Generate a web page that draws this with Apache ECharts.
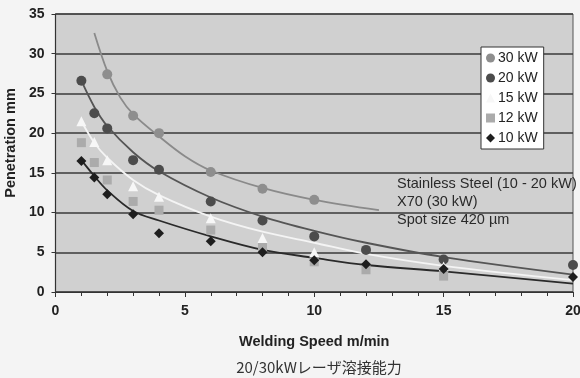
<!DOCTYPE html>
<html>
<head>
<meta charset="utf-8">
<script src="https://cdn.jsdelivr.net/npm/echarts@6/dist/echarts.min.js"></script>
<style>
  html, body { margin: 0; padding: 0; background: #f4f4f4; }
  #chart { width: 580px; height: 378px; }
</style>
</head>
<body>
<div id="chart"></div>
<script>
  // measured points (speed m/min, penetration mm)
  const speeds30 = [2, 3, 4, 6, 8, 10]
  const pen30 = [27.4, 22.2, 20.0, 15.1, 13.0, 11.6]
  const speeds20 = [1, 1.5, 2, 3, 4, 6, 8, 10, 12, 15, 20]
  const pen20 = [26.6, 22.5, 20.6, 16.6, 15.4, 11.4, 9.0, 7.0, 5.3, 4.1, 3.4]
  const speeds15 = [1, 1.5, 2, 3, 4, 6, 8, 10, 15]
  const pen15 = [21.5, 18.9, 16.6, 13.3, 12.0, 9.3, 6.8, 5.0, 3.2]
  const speeds12 = [1, 1.5, 2, 3, 4, 6, 8, 10, 12, 15]
  const pen12 = [18.8, 16.3, 14.1, 11.4, 10.3, 7.8, 5.6, 3.8, 2.8, 2.0]
  const speeds10 = [1, 1.5, 2, 3, 4, 6, 8, 10, 12, 15, 20]
  const pen10 = [16.5, 14.4, 12.3, 9.8, 7.4, 6.4, 5.0, 4.0, 3.5, 2.9, 1.9]

  // trend lines
  const trend30X = [1.5, 2, 2.5, 3, 4, 5, 6, 8, 10, 12.5]
  const trend30Y = [32.6, 27.8, 24.5, 22.4, 19.6, 17.1, 15.3, 13.1, 11.6, 10.3]
  const trendX = [1, 1.5, 2, 3, 4, 6, 8, 10, 12, 15, 20]
  const trend20Y = [26.6, 23.3, 20.9, 17.6, 15.2, 11.9, 9.5, 7.7, 6.2, 4.4, 2.2]
  const trend15Y = [21.5, 18.8, 16.9, 14.1, 12.2, 9.5, 7.6, 6.2, 4.8, 3.3, 1.5]
  const trend10Y = [16.6, 14.6, 12.8, 10.2, 9.0, 7.0, 5.3, 4.3, 3.4, 2.6, 1.05]

  const legendNames = ['30 kW', '20 kW', '15 kW', '12 kW', '10 kW']
  const noteLines = ['Stainless Steel (10 - 20 kW)', 'X70 (30 kW)', 'Spot size 420 µm']

  const zip = (xs, ys) => xs.map((x, i) => [x, ys[i]])
  const font = 'Liberation Sans, Arial, sans-serif'

  function trend (name, xs, ys, color) {
    return {
      name: name + ' trend',
      type: 'line',
      data: zip(xs, ys),
      smooth: 0.35,
      showSymbol: false,
      silent: true,
      z: 2,
      lineStyle: { color: color, width: 1.8 }
    }
  }

  function points (name, xs, ys, symbol, color, size) {
    return {
      name: name,
      type: 'scatter',
      data: zip(xs, ys),
      symbol: symbol,
      symbolSize: size,
      z: 5,
      itemStyle: { color: color, opacity: 1 }
    }
  }

  const chart = echarts.init(document.getElementById('chart'))
  chart.setOption({
    backgroundColor: '#f4f4f4',
    animation: false,
    textStyle: { fontFamily: font },
    title: {
      text: '20/30kWレーザ溶接能力',
      left: 314,
      textAlign: 'center',
      top: 355,
      textStyle: { fontFamily: 'Noto Sans CJK JP', fontSize: 15, fontWeight: 'normal', color: '#333' }
    },
    grid: {
      left: 55.5, right: 7, top: 14, bottom: 86,
      outerBoundsMode: 'none',
      containLabel: false,
      show: true,
      backgroundColor: '#d0d0d0',
      borderColor: '#555',
      borderWidth: 1
    },
    legend: {
      orient: 'vertical',
      left: 481,
      top: 47,
      data: [
        { name: '30 kW', icon: 'circle' },
        { name: '20 kW', icon: 'circle' },
        { name: '15 kW', icon: 'triangle' },
        { name: '12 kW', icon: 'rect' },
        { name: '10 kW', icon: 'diamond' }
      ],
      itemWidth: 9,
      itemHeight: 9,
      itemGap: 6,
      padding: [4, 6, 4, 5],
      backgroundColor: '#ffffff',
      borderColor: '#333',
      borderWidth: 1,
      borderRadius: 0,
      textStyle: { fontFamily: font, fontSize: 14, color: '#222', lineHeight: 14, padding: [0, 0, 0, -2] }
    },
    xAxis: {
      type: 'value',
      min: 0, max: 20, interval: 5,
      name: 'Welding Speed m/min',
      nameLocation: 'middle',
      nameGap: 42,
      nameTextStyle: { fontFamily: font, fontWeight: 'bold', fontSize: 14.5, color: '#222' },
      axisLine: { show: true, lineStyle: { color: '#333', width: 1.2 } },
      axisTick: { show: true, length: 5, lineStyle: { color: '#333' } },
      minorTick: { show: true, splitNumber: 5, length: 4, lineStyle: { color: '#333' } },
      axisLabel: { fontFamily: font, fontWeight: 'bold', fontSize: 14, color: '#222', margin: 12 },
      splitLine: { show: false }
    },
    yAxis: {
      type: 'value',
      min: 0, max: 35, interval: 5,
      name: 'Penetration mm',
      nameLocation: 'middle',
      nameGap: 34,
      nameTextStyle: { fontFamily: font, fontWeight: 'bold', fontSize: 14.5, color: '#222', padding: [0, 0, 0, 20] },
      axisLine: { show: true, lineStyle: { color: '#333', width: 1.2 } },
      axisTick: { show: true, length: 4, lineStyle: { color: '#333' } },
      axisLabel: { fontFamily: font, fontWeight: 'bold', fontSize: 14, color: '#222', margin: 11 },
      splitLine: { show: true, lineStyle: { color: '#3a3a3a', width: 1.5 } }
    },
    graphic: noteLines.map((t, i) => ({
      type: 'text',
      left: 397,
      top: 176 + i * 18,
      z: 10,
      style: { text: t, fontFamily: font, fontSize: 14.5, fill: '#2a2a2a' }
    })),
    series: [
      trend('30 kW', trend30X, trend30Y, '#8a8a8a'),
      trend('20 kW', trendX, trend20Y, '#555555'),
      trend('15 kW', trendX, trend15Y, '#f4f4f4'),
      trend('10 kW', trendX, trend10Y, '#2a2a2a'),
      points(legendNames[0], speeds30, pen30, 'circle', '#8e8e8e', 10),
      points(legendNames[1], speeds20, pen20, 'circle', '#4c4c4c', 10),
      points(legendNames[2], speeds15, pen15, 'triangle', '#f7f7f7', 10),
      points(legendNames[3], speeds12, pen12, 'rect', '#ababab', 9),
      points(legendNames[4], speeds10, pen10, 'diamond', '#1e1e1e', 10)
    ]
  })
</script>
</body>
</html>
